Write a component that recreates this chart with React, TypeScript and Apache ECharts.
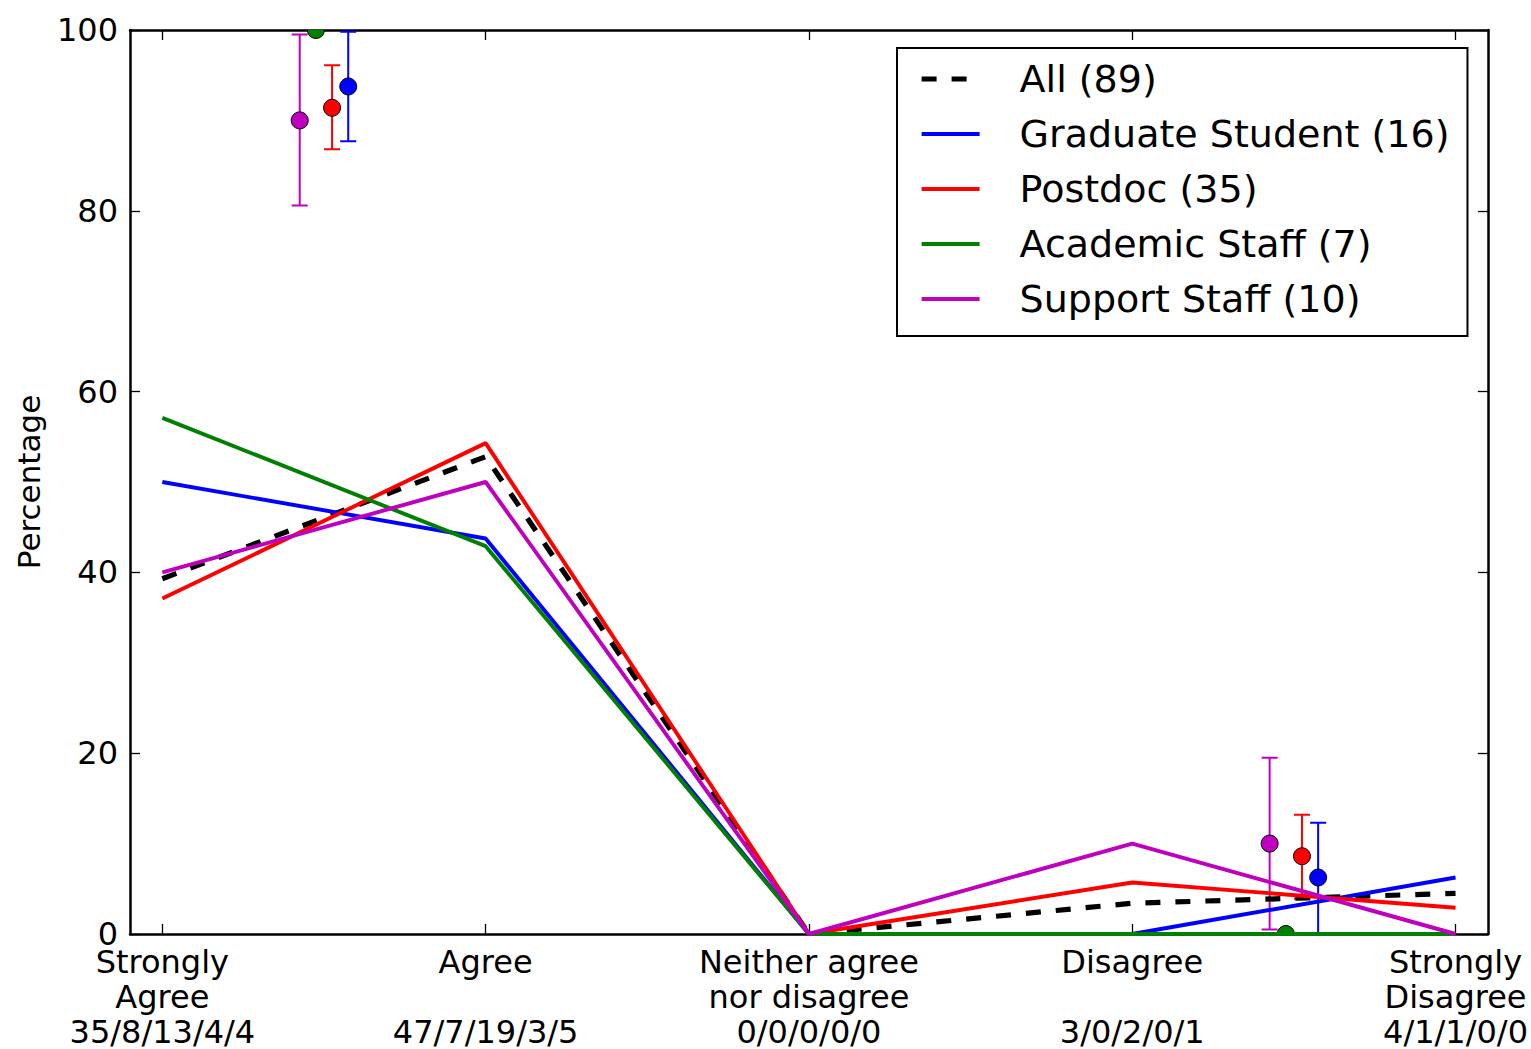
import React, { useEffect, useRef } from "react";
import * as echarts from "echarts";

// ---- data ----
const categories = ["Strongly\nAgree", "Agree", "Neither agree\nnor disagree", "Disagree", "Strongly\nDisagree"];
const countLabels = ["35/8/13/4/4", "47/7/19/3/5", "0/0/0/0/0", "3/0/2/0/1", "4/1/1/0/0"];
const categoryX = [0, 1, 2, 3, 4];
const yTicks = [0, 20, 40, 60, 80, 100];

const seriesNames = ["All (89)", "Graduate Student (16)", "Postdoc (35)", "Academic Staff (7)", "Support Staff (10)"];
const allPct = [39.3, 52.8, 0, 3.4, 4.5];
const gradPct = [50.0, 43.75, 0, 0, 6.25];
const postdocPct = [37.1, 54.3, 0, 5.7, 2.9];
const academicPct = [57.1, 42.9, 0, 0, 0];
const supportPct = [40.0, 50.0, 0, 10.0, 0];

// summary points with error bars (agree side near 0.5, disagree side near 3.5)
const gradSummaryX = [0.575, 3.575];
const gradSummary = [93.75, 6.25];
const gradLow = [87.7, 0];
const gradHigh = [99.8, 12.3];

const postdocSummaryX = [0.525, 3.525];
const postdocSummary = [91.4, 8.6];
const postdocLow = [86.8, 3.9];
const postdocHigh = [96.1, 13.2];

const academicSummaryX = [0.475, 3.475];
const academicSummary = [100, 0];
const academicLow: (number | null)[] = [null, null];
const academicHigh: (number | null)[] = [null, null];

const supportSummaryX = [0.425, 3.425];
const supportSummary = [90, 10];
const supportLow = [80.6, 0.5];
const supportHigh = [99.5, 19.5];

// ---- styles ----
const FONT = "DejaVu Sans";
const C_ALL = "#000000";
const C_GRAD = "#0000ff";
const C_POST = "#ff0000";
const C_ACAD = "#008000";
const C_SUPP = "#bf00bf";

function lineData(vals: number[]) {
  return categoryX.map((x, i) => [x, vals[i]]);
}

function summaryData(xs: number[], ys: number[], lo: (number | null)[], hi: (number | null)[]) {
  return xs.map((x, i) => [x, ys[i], lo[i] == null ? NaN : lo[i], hi[i] == null ? NaN : hi[i]]);
}

function makeRender(color: string) {
  return (params: any, api: any) => {
    const x = api.value(0);
    const y = api.value(1);
    const lo = api.value(2);
    const hi = api.value(3);
    const c = api.coord([x, y]);
    const cs = params.coordSys;
    const children: any[] = [];
    const cap = 8;
    if (!isNaN(lo) && !isNaN(hi)) {
      const pLo = api.coord([x, lo]);
      const pHi = api.coord([x, hi]);
      const st = { stroke: color, lineWidth: 2 };
      children.push({ type: "line", shape: { x1: pLo[0], y1: pLo[1], x2: pHi[0], y2: pHi[1] }, style: st });
      children.push({ type: "line", shape: { x1: pLo[0] - cap, y1: pLo[1], x2: pLo[0] + cap, y2: pLo[1] }, style: st });
      children.push({ type: "line", shape: { x1: pHi[0] - cap, y1: pHi[1], x2: pHi[0] + cap, y2: pHi[1] }, style: st });
    }
    children.push({
      type: "circle",
      shape: { cx: c[0], cy: c[1], r: 8.5 },
      style: { fill: color, stroke: "#000", lineWidth: 1 },
    });
    return {
      type: "group",
      children,
      clipPath: { type: "rect", shape: { x: cs.x, y: cs.y, width: cs.width, height: cs.height } },
    };
  };
}

function summarySeries(name: string, color: string, data: any[]) {
  return {
    type: "custom",
    name,
    z: 1,
    clip: false,
    encode: { x: 0, y: 1 },
    dimensions: ["x", "y", "lo", "hi"],
    renderItem: makeRender(color),
    data,
  };
}

function lineSeries(name: string, color: string, vals: number[], dashed = false) {
  return {
    type: "line",
    name,
    data: lineData(vals),
    symbol: "none",
    showSymbol: false,
    z: 3,
    lineStyle: {
      color,
      width: dashed ? 5.2 : 3.9,
      type: dashed ? [15, 15] : "solid",
    },
    itemStyle: { color },
  };
}

const axisLineStyle = { color: "#000", width: 2.5 };
const tickStyle = { color: "#000", width: 1.3 };

export default function App() {
  const ref = useRef<HTMLDivElement>(null);
  useEffect(() => {
    if (!ref.current) return;
    const chart = echarts.init(ref.current, undefined, { renderer: "svg" });
    const xLabel = (v: number) => {
      const i = categoryX.indexOf(Math.round(v));
      if (i < 0) return "";
      const name = categories[i];
      const nameLines = name.split("\n").length;
      return (nameLines === 1 ? name + "\n" : name) + "\n" + countLabels[i];
    };
    const option: any = {
      animation: false,
      backgroundColor: "#ffffff",
      textStyle: { fontFamily: FONT, color: "#000" },
      grid: { left: 130, top: 30, right: 43, bottom: 113, containLabel: false },
      xAxis: [
        {
          type: "value",
          position: "bottom",
          min: -0.1,
          max: 4.1,
          axisLine: { show: true, onZero: false, lineStyle: axisLineStyle },
          axisTick: { show: true, inside: true, length: 10, customValues: categoryX, lineStyle: tickStyle },
          axisLabel: {
            show: true,
            customValues: categoryX,
            formatter: xLabel,
            fontSize: 32,
            lineHeight: 35,
            color: "#000",
            fontFamily: FONT,
            margin: 10,
            align: "center",
            hideOverlap: false,
            showMinLabel: true,
            showMaxLabel: true,
          },
          splitLine: { show: false },
        },
        {
          type: "value",
          position: "top",
          min: -0.1,
          max: 4.1,
          axisLine: { show: true, onZero: false, lineStyle: axisLineStyle },
          axisTick: { show: true, inside: true, length: 10, customValues: categoryX, lineStyle: tickStyle },
          axisLabel: { show: false },
          splitLine: { show: false },
        },
      ],
      yAxis: [
        {
          type: "value",
          position: "left",
          min: yTicks[0],
          max: yTicks[yTicks.length - 1],
          interval: 20,
          name: "Percentage",
          nameLocation: "middle",
          nameGap: 86,
          nameTextStyle: { fontSize: 31, color: "#000", fontFamily: FONT },
          axisLine: { show: true, onZero: false, lineStyle: axisLineStyle },
          axisTick: { show: true, inside: true, length: 10, lineStyle: tickStyle },
          axisLabel: { show: true, fontSize: 32, lineHeight: 20, color: "#000", fontFamily: FONT, margin: 12 },
          splitLine: { show: false },
        },
        {
          type: "value",
          position: "right",
          min: yTicks[0],
          max: yTicks[yTicks.length - 1],
          interval: 20,
          axisLine: { show: true, onZero: false, lineStyle: axisLineStyle },
          axisTick: { show: true, inside: true, length: 10, lineStyle: tickStyle },
          axisLabel: { show: false },
          splitLine: { show: false },
        },
      ],
      legend: {
        data: seriesNames,
        orient: "vertical",
        left: 897,
        top: 48,
        padding: [11, 18, 17, 22],
        itemGap: 15,
        itemWidth: 58,
        itemHeight: 20,
        borderColor: "#000",
        borderWidth: 2,
        borderRadius: 0,
        backgroundColor: "#fff",
        selectedMode: false,
        itemStyle: { opacity: 0 },
        lineStyle: { width: "inherit", type: "inherit" },
        textStyle: { fontSize: 38, lineHeight: 40, color: "#000", fontFamily: FONT, padding: [0, 0, 0, 35] },
      },
      series: [
        summarySeries("s-supp", C_SUPP, summaryData(supportSummaryX, supportSummary, supportLow, supportHigh)),
        summarySeries("s-acad", C_ACAD, summaryData(academicSummaryX, academicSummary, academicLow, academicHigh)),
        summarySeries("s-post", C_POST, summaryData(postdocSummaryX, postdocSummary, postdocLow, postdocHigh)),
        summarySeries("s-grad", C_GRAD, summaryData(gradSummaryX, gradSummary, gradLow, gradHigh)),
        lineSeries(seriesNames[0], C_ALL, allPct, true),
        lineSeries(seriesNames[1], C_GRAD, gradPct),
        lineSeries(seriesNames[2], C_POST, postdocPct),
        lineSeries(seriesNames[3], C_ACAD, academicPct),
        lineSeries(seriesNames[4], C_SUPP, supportPct),
      ],
    };
    chart.setOption(option);
    return () => chart.dispose();
  }, []);
  return (
    <div
      ref={ref}
      style={{ position: "absolute", left: 0, top: 0, width: 1531, height: 1049, background: "#fff" }}
    />
  );
}
